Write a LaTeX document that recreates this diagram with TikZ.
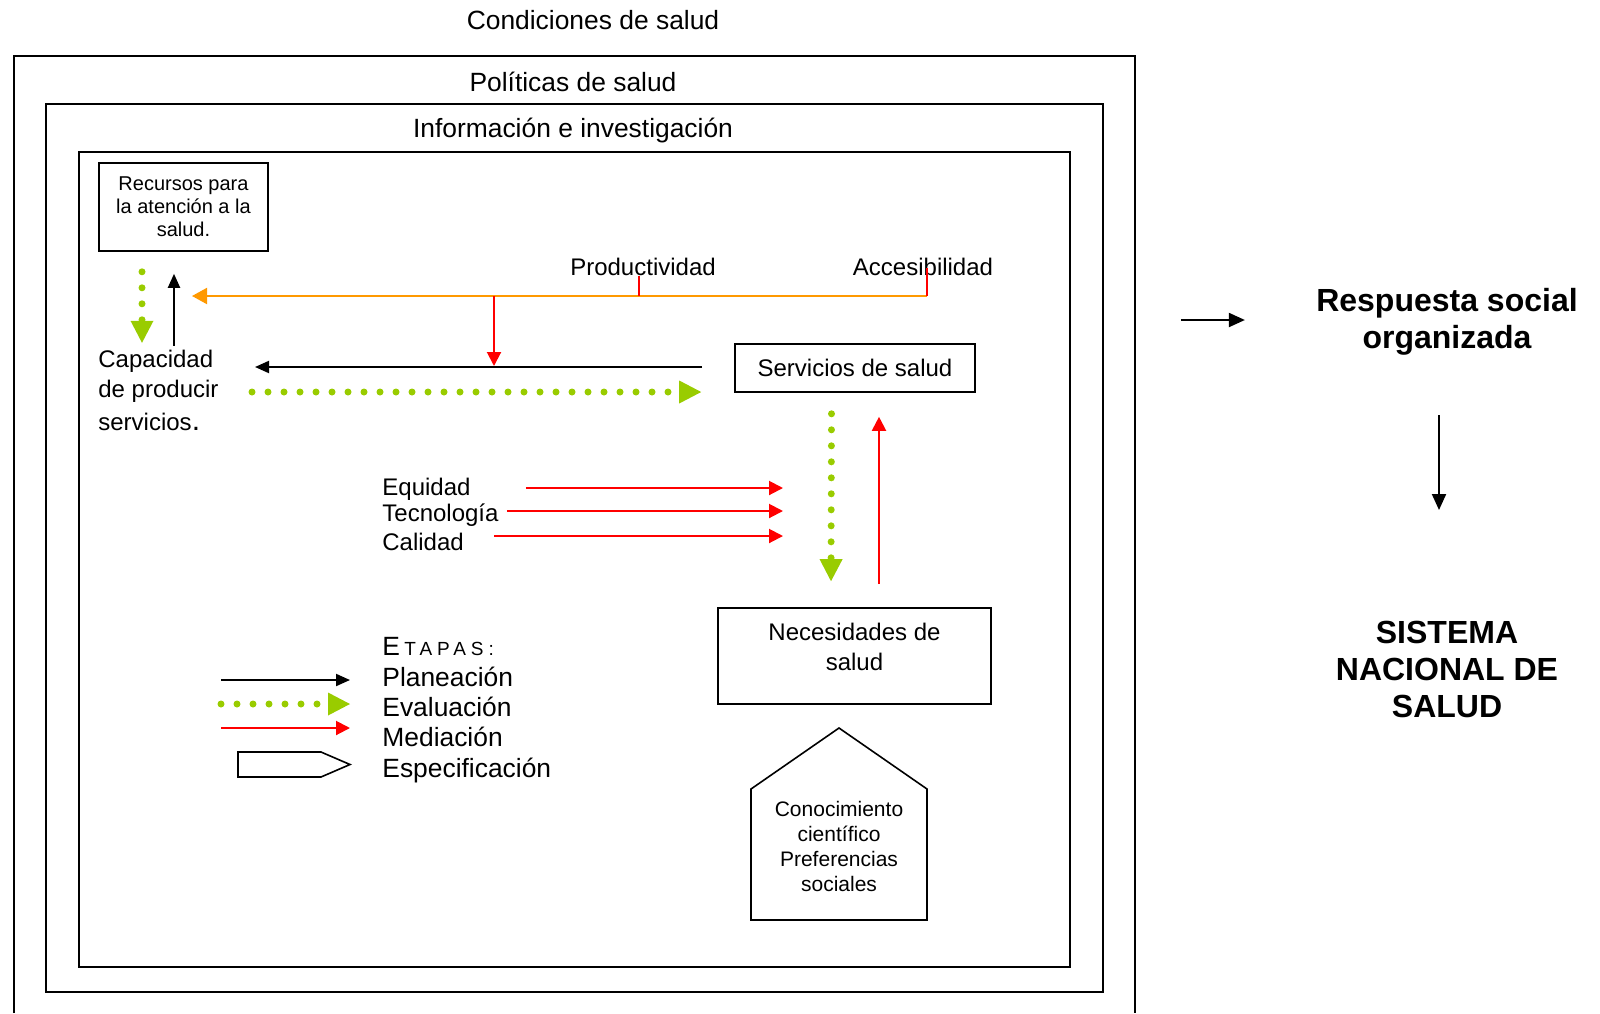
\documentclass[tikz,border=0pt]{standalone}
\usepackage{fontspec}
\setmainfont{Liberation Sans}
\usepackage{tikz}
\usetikzlibrary{arrows.meta}
\definecolor{evalgreen}{RGB}{153,204,0}
\definecolor{prodorange}{RGB}{255,153,0}

\begin{document}
\begin{tikzpicture}[x=0.5pt, y=-0.5pt]
\tikzstyle{every node} = [inner sep=0pt, font=\fontsize{12}{15}\selectfont]
\tikzstyle{box} = [draw, line width=0.8pt, align=center]
\tikzstyle{legtxt} = [anchor=west, font=\fontsize{13.2}{15}\selectfont]
\tikzstyle{plan} = [line width=1pt, -{Triangle[length=7pt,width=6pt]}]
\tikzstyle{medi} = [red, line width=1pt, -{Triangle[length=7pt,width=7pt]}]
\tikzstyle{ev} = [evalgreen, line width=3.5pt, line cap=round, dash pattern=on 0pt off 8pt, -{Triangle[length=11pt,width=11.5pt,line width=0pt]}]
\useasboundingbox (0,0) rectangle (1600,1013);

% frames
\draw[line width=1pt] (14,1013) -- (14,56) -- (1135,56) -- (1135,1013);
\draw[line width=1pt] (46,104) rectangle (1103,992);
\draw[line width=1pt] (79,152) rectangle (1070,967);
\node[font=\fontsize{13.2}{15}\selectfont] (cond) at (593,20) {Condiciones de salud};
\node[font=\fontsize{13.2}{15}\selectfont] (pol) at (573,82) {Políticas de salud};
\node[font=\fontsize{13.2}{15}\selectfont] (info) at (573,131) {Información e investigación};

% resources and capacity
\node[box, minimum width=84.5pt, minimum height=44pt, font=\fontsize{10}{11.5}\selectfont] (rec) at (183.5,207) {Recursos para\\la atención a la\\salud.};
\node[align=left, anchor=north west] (cap) at (98,350) {Capacidad\\de producir\\[1.5pt]servicios{\fontsize{15}{15}\selectfont.}};
\draw[ev] ([xshift=-20.75pt,yshift=-10pt]rec.south) -- ([xshift=-20.75pt,yshift=-45.5pt]rec.south);
\draw[plan] ([xshift=-4.75pt,yshift=-47pt]rec.south) -- ([xshift=-4.75pt,yshift=-11pt]rec.south);

% productivity / accessibility
\node (prodtxt) at (643,267) {Productividad};
\node (acctxt) at (923,267) {Accesibilidad};
\coordinate (acc) at (927,296);
\coordinate (prod) at (639,296);
\coordinate (orgtip) at (192,296);
\coordinate (med1) at (494,296);
\coordinate (plan1) at (494,366);
\coordinate (planend) at (255,367);
\coordinate (evstart) at (252,392);
\draw[prodorange, line width=1pt, -{Triangle[length=7.5pt,width=8pt]}] (acc) -- (orgtip);
\draw[red, line width=0.6pt] (prod) -- ([yshift=-4.5pt]prod |- prodtxt.center);
\draw[red, line width=0.6pt] (acc) -- ([yshift=-0.5pt]acc |- acctxt.center);
\draw[medi] (med1) -- (plan1);

% health services
\node[box, minimum width=120pt, minimum height=24pt] (serv) at (855,368) {Servicios de salud};
\draw[plan] ([xshift=-16pt,yshift=0.5pt]serv.west) -- (planend);
\draw[ev] (evstart) -- ([xshift=-16.5pt,yshift=-12pt]serv.west);

% health needs
\node[box, minimum width=136.5pt, minimum height=48pt] (nec) at (854.5,656) {};
\node[align=center] (nectxt) at ([yshift=4.5pt]nec.center) {Necesidades de\\salud};
\draw[ev] ([xshift=-11.75pt,yshift=-10.5pt]serv.south) -- ([xshift=-11.75pt,yshift=13pt]nec.north);
\draw[medi] ([xshift=12.25pt,yshift=11.5pt]nec.north) -- ([xshift=12pt,yshift=-12pt]serv.south);

% equity, technology, quality
\coordinate (medend) at (783,0);
\node[anchor=west] (equ) at (382,489) {Equidad};
\node[anchor=west] (tec) at (382,515) {Tecnología};
\node[anchor=west] (cal) at (382,542) {Calidad};
\foreach \n/\dx/\dy in {equ/27.5pt/0.5pt, tec/4pt/2pt, cal/15pt/3pt}
\draw[medi] ([xshift=\dx,yshift=\dy]\n.east) coordinate (s) -- (s -| medend);

% knowledge
\draw[line width=0.8pt] (751,920) -- (751,789) -- (839,728) -- (927,789) -- (927,920) -- cycle;
\node[align=center, font=\fontsize{10.5}{12.5}\selectfont] (con) at (839,846) {Conocimiento\\científico\\Preferencias\\sociales};

% legend
\node[legtxt] (etapas) at (382,646) {E\kern2.2pt{\fontsize{9.5}{9}\selectfont\addfontfeature{LetterSpace=26}TAPAS:}};
\node[legtxt] (plane) at (382,677) {Planeación};
\node[legtxt] (evalu) at (382,707) {Evaluación};
\node[legtxt] (mediac) at (382,737) {Mediación};
\node[legtxt] (espec) at (382,771) {Especificación};
\foreach \n/\s/\dy in {plane/plan/-1.5pt, evalu/ev/1.5pt, mediac/medi/4.5pt}
\draw[\s] ([xshift=-80.5pt,yshift=\dy]\n.west) -- ([xshift=-16pt,yshift=\dy]\n.west);
\draw[line width=0.8pt] (238,752) -- (321,752) -- (350,764.5) -- (321,777) -- (238,777) -- cycle;

% national system
\node[align=center, font=\bfseries\fontsize{16}{18.5}\selectfont] (resp) at (1447,322) {Respuesta social\\organizada};
\node[align=center, font=\bfseries\fontsize{16}{18.5}\selectfont] (snm) at (1447,669) {SISTEMA\\NACIONAL DE\\SALUD};
\draw[line width=1pt, -{Triangle[length=8pt,width=7pt]}] ([xshift=-67.5pt,yshift=1pt]resp.west) -- ([xshift=-35.5pt,yshift=1pt]resp.west);
\draw[line width=1pt, -{Triangle[length=8pt,width=7pt]}] ([xshift=-4pt,yshift=-46.5pt]resp.center) -- ([xshift=-4pt,yshift=79.5pt]snm.center);

\end{tikzpicture}
\end{document}
